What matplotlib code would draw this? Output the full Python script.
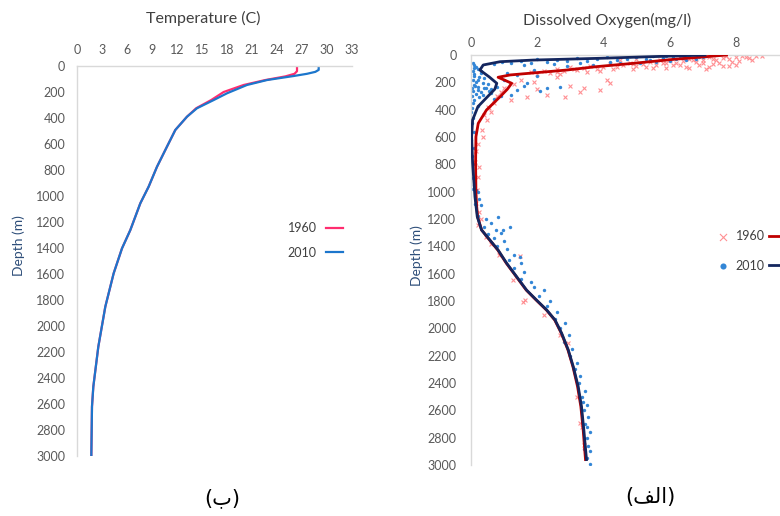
import matplotlib.pyplot as plt

plt.rcParams['font.family'] = ['Lato', 'DejaVu Sans']

# temperature profiles (deg C against depth in m)
temp_depth_1960 = [0, 40, 60, 80, 108, 146, 200, 262, 325, 390, 492, 620, 775, 928,
                   1056, 1262, 1403, 1595, 1851, 2159, 2467, 2620, 3000]
temp_1960 = [26.4, 26.4, 26.1, 25.0, 22.6, 20.0, 17.6, 16.1, 14.3, 13.2, 11.8, 10.8,
             9.6, 8.6, 7.6, 6.4, 5.4, 4.4, 3.4, 2.56, 1.96, 1.8, 1.72]
temp_depth_2010 = [0, 30, 45, 60, 77, 108, 146, 210, 262, 325, 390, 492, 620, 775, 928,
                   1056, 1262, 1403, 1595, 1851, 2159, 2467, 2620, 3000]
temp_2010 = [29.0, 29.0, 28.6, 27.6, 26.0, 22.8, 20.4, 18.0, 16.4, 14.4, 13.2, 11.8,
             10.8, 9.6, 8.6, 7.6, 6.4, 5.4, 4.4, 3.4, 2.56, 1.96, 1.8, 1.72]

# dissolved oxygen trend lines (mg/l against depth in m)
oxy_depth_1960 = [0, 30, 61, 85, 110, 146, 163, 207, 250, 305, 402, 500, 598, 790,
                  1000, 1100, 1183, 1280, 1353, 1427, 1524, 1622, 1720, 1793, 1866,
                  1939, 2036, 2158, 2280, 2426, 2573, 2744, 2960]
oxy_1960 = [7.72, 6.2, 4.9, 3.8, 2.89, 1.18, 0.82, 1.23, 1.1, 0.88, 0.47, 0.22, 0.15,
            0.14, 0.15, 0.17, 0.2, 0.32, 0.56, 0.81, 1.07, 1.37, 1.67, 1.97, 2.28,
            2.53, 2.73, 2.93, 3.08, 3.22, 3.32, 3.39, 3.46]
oxy_depth_2010 = [0, 24, 37, 49, 73, 110, 160, 207, 250, 305, 378, 475, 598, 790,
                  1036, 1183, 1280, 1353, 1427, 1524, 1622, 1720, 1793, 1866, 1939,
                  2036, 2158, 2280, 2426, 2573, 2744, 2960]
oxy_2010 = [7.07, 3.9, 1.88, 0.88, 0.37, 0.27, 0.55, 0.78, 0.72, 0.5, 0.21, 0.05,
            0.02, 0.05, 0.12, 0.19, 0.32, 0.57, 0.82, 1.08, 1.38, 1.68, 1.98, 2.29,
            2.54, 2.74, 2.94, 3.09, 3.24, 3.34, 3.41, 3.49]

# individual oxygen samples as (mg/l, depth)
samples_1960 = [
    (8.6, 10), (8.4, 25), (8.2, 5), (8.0, 15), (7.8, 30), (7.6, 20), (7.4, 40),
    (7.2, 12), (7.0, 35), (6.8, 50), (6.6, 28), (6.4, 45), (6.2, 60), (6.0, 38),
    (5.8, 55), (5.6, 70), (5.4, 48), (5.2, 65), (5.0, 80), (4.8, 58), (4.6, 75),
    (4.4, 90), (4.2, 68), (4.0, 85), (3.8, 100), (3.6, 78), (3.4, 95), (3.2, 110),
    (3.0, 88), (2.8, 120), (2.6, 105), (2.4, 130), (2.2, 115), (2.0, 140), (1.8, 125),
    (6.9, 75), (7.5, 55), (5.9, 95), (8.1, 45), (7.1, 105), (7.6, 80), (7.8, 82),
    (8.3, 18), (7.3, 65), (6.5, 85), (5.5, 92), (4.9, 100), (6.1, 70), (5.0, 30),
    (4.5, 40), (8.8, 8), (8.5, 35), (7.9, 50), (7.7, 8), (7.3, 28), (7.0, 60),
    (6.7, 40), (6.3, 75), (5.9, 62), (5.7, 40), (5.3, 85), (4.9, 68), (4.3, 105),
    (3.9, 115), (3.5, 125), (3.1, 100), (2.7, 140), (6.6, 95), (7.2, 88), (8.0, 70),
    (4.2, 207), (4.1, 183), (3.9, 256), (3.4, 244), (3.3, 268),
    (2.84, 305), (1.68, 305), (1.5, 183), (2.6, 160), (1.2, 329), (0.9, 270),
    (1.0, 240), (0.7, 350), (0.5, 380), (0.47, 475), (0.32, 549), (0.35, 598),
    (2.59, 122), (1.9, 200), (2.3, 290), (0.6, 420), (1.3, 215), (0.8, 300),
    (0.4, 440), (0.55, 390), (3.0, 230), (2.0, 250),
    (0.15, 700), (0.12, 780), (0.22, 890), (0.18, 985), (0.25, 1146), (0.21, 1244),
    (0.44, 1329), (0.85, 1463), (1.49, 1473), (1.28, 1646), (1.63, 1792), (1.58, 1805),
    (2.94, 2109), (3.30, 2696), (3.34, 2720), (0.3, 1200), (0.6, 1380), (2.2, 1900),
    (2.7, 2050), (3.2, 2500), (3.4, 2850), (0.2, 650), (0.25, 820), (0.16, 1080),
]
samples_2010 = [
    (7.1, 5), (6.9, 12), (6.6, 8), (6.4, 20), (6.1, 15), (5.8, 25), (5.5, 10),
    (5.3, 32), (5.0, 18), (4.7, 28), (4.4, 38), (4.1, 14), (3.8, 30), (3.5, 42),
    (3.2, 22), (2.9, 46), (2.6, 34), (2.3, 52), (2.0, 26), (1.8, 58), (1.5, 44),
    (1.2, 62), (0.95, 50), (0.7, 68), (6.0, 42), (6.5, 36), (5.1, 55), (4.5, 62),
    (3.7, 72), (2.9, 82), (6.8, 30), (5.6, 48), (7.0, 18), (6.3, 5), (5.9, 8),
    (4.8, 8), (4.2, 48), (3.3, 58), (2.5, 68), (1.6, 75), (6.2, 28), (5.4, 38),
    (2.7, 232), (2.3, 244), (1.7, 207), (1.4, 256), (1.9, 110), (1.4, 146),
    (1.0, 180), (0.8, 232), (1.2, 290), (0.6, 280), (2.1, 265), (1.6, 230),
    (0.9, 300), (0.7, 320), (2.0, 150), (1.1, 130),
    (0.05, 60), (0.1, 75), (0.15, 90), (0.2, 100), (0.05, 120), (0.3, 130),
    (0.1, 150), (0.25, 160), (0.4, 170), (0.05, 185), (0.15, 195), (0.35, 205),
    (0.5, 210), (0.1, 220), (0.2, 235), (0.4, 245), (0.6, 250), (0.05, 260),
    (0.3, 270), (0.15, 285), (0.02, 300), (0.25, 310), (0.1, 330), (0.05, 350),
    (0.2, 370), (0.02, 390), (0.1, 140), (0.3, 115), (0.45, 240), (0.2, 255),
    (0.12, 225), (0.55, 260), (0.08, 95), (0.22, 180), (0.02, 240), (0.35, 290),
    (0.0, 420), (0.05, 460), (0.02, 500), (0.08, 560), (0.0, 620), (0.1, 680),
    (0.03, 740), (0.12, 800), (0.0, 860), (0.05, 900), (0.1, 950), (0.15, 990),
    (0.2, 1000), (0.25, 1050), (0.3, 1100), (0.0, 780), (0.06, 980), (0.12, 1090),
    (0.2, 1180), (0.45, 1200), (0.6, 1230), (0.4, 1260), (0.75, 1280), (0.9, 1300),
    (0.5, 1310), (0.7, 1340), (1.0, 1360), (1.18, 1256), (0.98, 1283), (0.82, 1183),
    (0.8, 1400), (1.1, 1420), (1.3, 1460), (1.48, 1475), (1.15, 1500), (1.5, 1520),
    (1.3, 1560), (1.6, 1590), (1.5, 1640), (1.8, 1660), (1.9, 1700), (2.2, 1720),
    (2.05, 1760), (2.4, 1800), (2.3, 1840), (2.6, 1880), (2.55, 1930), (2.85, 1960),
    (2.7, 2000), (2.95, 2050), (2.8, 2100), (3.05, 2150), (3.0, 2200), (3.2, 2250),
    (3.15, 2300), (3.3, 2350), (3.25, 2400), (3.45, 2460), (3.35, 2500), (3.5, 2560),
    (3.4, 2600), (3.55, 2650), (3.45, 2700), (3.6, 2760), (3.5, 2800), (3.55, 2860),
    (3.6, 2900), (3.5, 2950), (3.6, 2990), (3.42, 2880), (3.52, 2720), (3.38, 2540),
]

years = ['1960', '2010']
temp_ticks = list(range(0, 34, 3))
oxy_ticks = [0, 2, 4, 6, 8]
depth_ticks = list(range(0, 3001, 200))

c_temp = ['#FF2D6F', '#1C76CC']
c_line = ['#C00000', '#14265E']
c_dots = ['#FF7C80', '#3386D6']
grey_text = '#595959'
dark_text = '#404040'

fig = plt.figure(figsize=(7.8, 5.16), dpi=100)
ax1 = fig.add_axes([0.0987, 0.1163, 0.3526, 0.7558])
ax2 = fig.add_axes([0.6038, 0.0988, 0.4244, 0.7946])


def style_axis(ax, xticks, xlim, xpad, ypad):
    ax.xaxis.tick_top()
    ax.set_xticks(xticks)
    ax.set_yticks(depth_ticks)
    ax.set_xlim(*xlim)
    ax.set_ylim(3000, 0)
    for side in ['right', 'bottom']:
        ax.spines[side].set_visible(False)
    for side in ['left', 'top']:
        ax.spines[side].set_color('#D9D9D9')
        ax.spines[side].set_linewidth(1.0)
    ax.tick_params(axis='x', length=0, labelsize=9, labelcolor=grey_text, pad=xpad)
    ax.tick_params(axis='y', length=0, labelsize=9, labelcolor=grey_text, pad=ypad)
    ax.set_ylabel('Depth (m)', fontsize=10, color='#2F4F7A')


# temperature panel
style_axis(ax1, temp_ticks, (0, 33), 7.5, 8.5)
l60, = ax1.plot(temp_1960, temp_depth_1960, color=c_temp[0], lw=1.6)
l10, = ax1.plot(temp_2010, temp_depth_2010, color=c_temp[1], lw=1.6)
ax1.yaxis.set_label_coords(-0.19, 0.54)
ax1.legend([l60, l10], years, loc='center right', frameon=False, markerfirst=False,
           bbox_to_anchor=(343 / 780, 1 - 240.5 / 516), bbox_transform=fig.transFigure,
           borderpad=0, borderaxespad=0, handlelength=1.35, handletextpad=0.75,
           labelspacing=1.0, fontsize=9, labelcolor=dark_text)

# dissolved oxygen panel
style_axis(ax2, oxy_ticks, (0, 10), 4, 10.5)
x60, d60 = zip(*samples_1960)
x10, d10 = zip(*samples_2010)
s60 = ax2.scatter(x60, d60, marker='x', s=8, lw=0.8, color=c_dots[0], alpha=0.85, zorder=2)
s10 = ax2.scatter(x10, d10, marker='o', s=6, lw=0, color=c_dots[1], zorder=2)
t60, = ax2.plot(oxy_1960, oxy_depth_1960, color=c_line[0], lw=2.0, zorder=3)
t10, = ax2.plot(oxy_2010, oxy_depth_2010, color=c_line[1], lw=2.0, zorder=4)
ax2.yaxis.set_label_coords(-0.145, 0.51)
ax2.legend([s60, s10, t60, t10], years + ['', ''], ncol=2, loc='center left',
           bbox_to_anchor=(715 / 780, 1 - 251 / 516), bbox_transform=fig.transFigure,
           frameon=False, borderpad=0, borderaxespad=0, handlelength=1.2,
           handletextpad=0.45, columnspacing=0.35, labelspacing=1.4, scatterpoints=1,
           markerscale=1.8, fontsize=9, labelcolor=dark_text)

# panel titles and captions
fig.text(203 / 780, 1 - 18 / 516, 'Temperature (C)', ha='center', va='center',
         fontsize=11.5, color=dark_text)
fig.text(607 / 780, 1 - 20 / 516, 'Dissolved Oxygen(mg/l)', ha='center', va='center',
         fontsize=11.5, color=dark_text)
fig.text(222 / 780, 1 - 498 / 516, '(\u0628)', ha='center', va='center',
         fontsize=15, family=['DejaVu Sans'], color='black')
fig.text(650 / 780, 1 - 497 / 516, '(\uFED2\uFEDF\uFE8D)', ha='center', va='center',
         fontsize=15, family=['DejaVu Sans'], color='black')

fig.savefig('out.png', dpi=100)
